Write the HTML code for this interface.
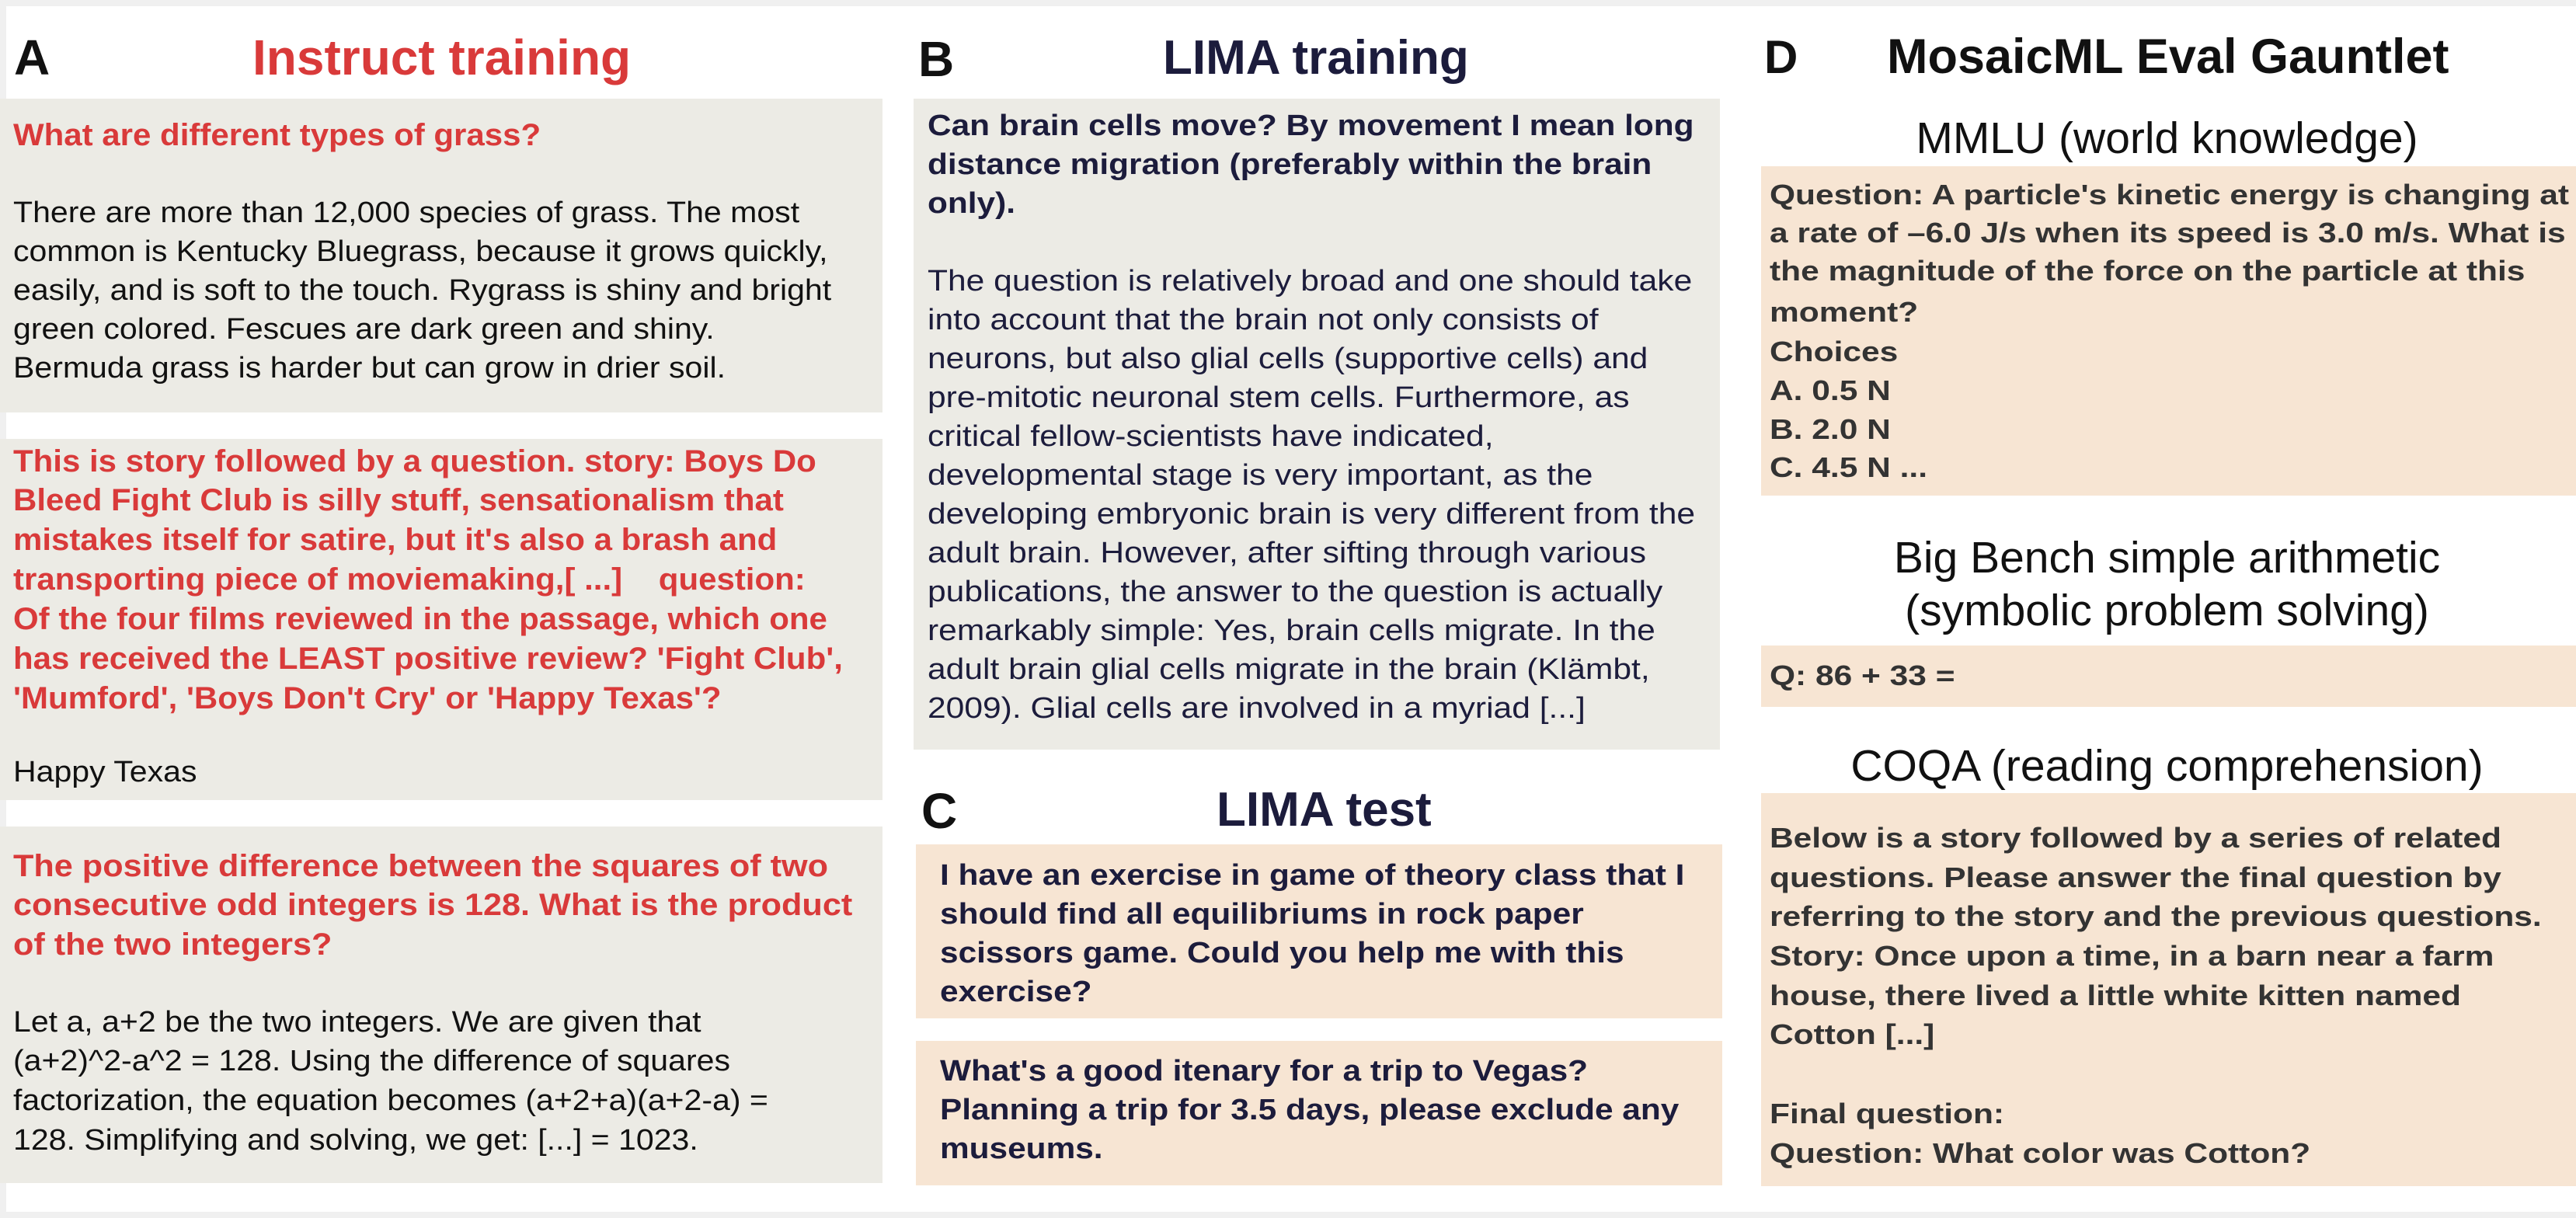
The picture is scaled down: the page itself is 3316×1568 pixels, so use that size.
<!DOCTYPE html>
<html><head><meta charset="utf-8"><style>
body{margin:0;width:3316px;height:1568px;background:#f0f0f0;position:relative;overflow:hidden;font-family:"Liberation Sans",sans-serif}
#pg{position:absolute;left:8px;top:8px;width:3308px;height:1552px;background:#fff}
.b{position:absolute}
.t{position:absolute;white-space:nowrap;line-height:1;transform-origin:0 0}
.g{background:#ecebe5}.p{background:#f7e5d3}
.r{color:#d93a3a;font-weight:bold;font-size:40px;transform:scaleX(1.05)}
.k{color:#111;font-size:38px;transform:scaleX(1.08)}
.n{color:#1c1c3c;font-weight:bold;font-size:38px;transform:scaleX(1.115)}
.nr{color:#1c1c3c;font-size:38px;transform:scaleX(1.12)}
.d{color:#333;font-weight:bold;font-size:36px;transform:scaleX(1.18)}
.s{color:#111;font-size:57px}
.h{font-weight:bold;font-size:64px;color:#111}
</style></head><body><div id="pg"></div>
<div class="b g" style="left:0;top:127px;width:1136px;height:404px"></div>
<div class="b g" style="left:0;top:565px;width:1136px;height:465px"></div>
<div class="b g" style="left:0;top:1064px;width:1136px;height:459px"></div>
<div class="b g" style="left:1176px;top:127px;width:1038px;height:838px"></div>
<div class="b p" style="left:1179px;top:1087px;width:1038px;height:224px"></div>
<div class="b p" style="left:1179px;top:1340px;width:1038px;height:186px"></div>
<div class="b p" style="left:2267px;top:214px;width:1049px;height:424px"></div>
<div class="b p" style="left:2267px;top:831px;width:1049px;height:79px"></div>
<div class="b p" style="left:2267px;top:1021px;width:1049px;height:506px"></div>

<div class="t h" style="left:18px;top:42px">A</div>
<div class="t h" style="left:325px;top:42px;color:#d93a3a">Instruct training</div>
<div class="t r" style="left:17px;top:154px">What are different types of grass?</div>
<div class="t k" style="left:17px;top:255px">There are more than 12,000 species of grass. The most</div>
<div class="t k" style="left:17px;top:305px">common is Kentucky Bluegrass, because it grows quickly,</div>
<div class="t k" style="left:17px;top:355px">easily, and is soft to the touch. Rygrass is shiny and bright</div>
<div class="t k" style="left:17px;top:405px">green colored. Fescues are dark green and shiny.</div>
<div class="t k" style="left:17px;top:455px">Bermuda grass is harder but can grow in drier soil.</div>

<div class="t r" style="left:17px;top:574px">This is story followed by a question. story: Boys Do</div>
<div class="t r" style="left:17px;top:624px">Bleed Fight Club is silly stuff, sensationalism that</div>
<div class="t r" style="left:17px;top:675px">mistakes itself for satire, but it's also a brash and</div>
<div class="t r" style="left:17px;top:726px">transporting piece of moviemaking,[ ...]&nbsp;&nbsp;&nbsp; question:</div>
<div class="t r" style="left:17px;top:777px">Of the four films reviewed in the passage, which one</div>
<div class="t r" style="left:17px;top:828px">has received the LEAST positive review? 'Fight Club',</div>
<div class="t r" style="left:17px;top:879px">'Mumford', 'Boys Don't Cry' or 'Happy Texas'?</div>
<div class="t k" style="left:17px;top:975px">Happy Texas</div>

<div class="t r" style="left:17px;top:1095px;transform:scaleX(1.08)">The positive difference between the squares of two</div>
<div class="t r" style="left:17px;top:1145px;transform:scaleX(1.08)">consecutive odd integers is 128. What is the product</div>
<div class="t r" style="left:17px;top:1196px;transform:scaleX(1.08)">of the two integers?</div>
<div class="t k" style="left:17px;top:1297px">Let a, a+2 be the two integers. We are given that</div>
<div class="t k" style="left:17px;top:1347px">(a+2)^2-a^2 = 128. Using the difference of squares</div>
<div class="t k" style="left:17px;top:1398px">factorization, the equation becomes (a+2+a)(a+2-a) =</div>
<div class="t k" style="left:17px;top:1449px">128. Simplifying and solving, we get: [...] = 1023.</div>

<div class="t h" style="left:1182px;top:44px">B</div>
<div class="t h" style="left:1497px;top:44px;color:#1c1c3c;font-size:62px">LIMA training</div>
<div class="t n" style="left:1194px;top:143px">Can brain cells move? By movement I mean long</div>
<div class="t n" style="left:1194px;top:193px">distance migration (preferably within the brain</div>
<div class="t n" style="left:1194px;top:243px">only).</div>
<div class="t nr" style="left:1194px;top:343px">The question is relatively broad and one should take</div>
<div class="t nr" style="left:1194px;top:393px">into account that the brain not only consists of</div>
<div class="t nr" style="left:1194px;top:443px">neurons, but also glial cells (supportive cells) and</div>
<div class="t nr" style="left:1194px;top:493px">pre-mitotic neuronal stem cells. Furthermore, as</div>
<div class="t nr" style="left:1194px;top:543px">critical fellow-scientists have indicated,</div>
<div class="t nr" style="left:1194px;top:593px">developmental stage is very important, as the</div>
<div class="t nr" style="left:1194px;top:643px">developing embryonic brain is very different from the</div>
<div class="t nr" style="left:1194px;top:693px">adult brain. However, after sifting through various</div>
<div class="t nr" style="left:1194px;top:743px">publications, the answer to the question is actually</div>
<div class="t nr" style="left:1194px;top:793px">remarkably simple: Yes, brain cells migrate. In the</div>
<div class="t nr" style="left:1194px;top:843px">adult brain glial cells migrate in the brain (Klämbt,</div>
<div class="t nr" style="left:1194px;top:893px">2009). Glial cells are involved in a myriad [...]</div>

<div class="t h" style="left:1186px;top:1012px">C</div>
<div class="t h" style="left:1566px;top:1012px;color:#1c1c3c;font-size:62px">LIMA test</div>
<div class="t n" style="left:1210px;top:1108px">I have an exercise in game of theory class that I</div>
<div class="t n" style="left:1210px;top:1158px">should find all equilibriums in rock paper</div>
<div class="t n" style="left:1210px;top:1208px">scissors game. Could you help me with this</div>
<div class="t n" style="left:1210px;top:1258px">exercise?</div>
<div class="t n" style="left:1210px;top:1360px">What's a good itenary for a trip to Vegas?</div>
<div class="t n" style="left:1210px;top:1410px">Planning a trip for 3.5 days, please exclude any</div>
<div class="t n" style="left:1210px;top:1460px">museums.</div>

<div class="t h" style="left:2271px;top:44px;font-size:60px">D</div>
<div class="t h" style="left:2429px;top:42px;font-size:63px">MosaicML Eval Gauntlet</div>
<div class="t s" style="left:2263px;width:1053px;text-align:center;top:150px">MMLU (world knowledge)</div>
<div class="t d" style="left:2278px;top:233px">Question: A particle's kinetic energy is changing at</div>
<div class="t d" style="left:2278px;top:282px">a rate of –6.0 J/s when its speed is 3.0 m/s. What is</div>
<div class="t d" style="left:2278px;top:331px">the magnitude of the force on the particle at this</div>
<div class="t d" style="left:2278px;top:384px">moment?</div>
<div class="t d" style="left:2278px;top:435px">Choices</div>
<div class="t d" style="left:2278px;top:485px">A. 0.5 N</div>
<div class="t d" style="left:2278px;top:535px">B. 2.0 N</div>
<div class="t d" style="left:2278px;top:584px">C. 4.5 N ...</div>
<div class="t s" style="left:2263px;width:1053px;text-align:center;top:690px">Big Bench simple arithmetic</div>
<div class="t s" style="left:2263px;width:1053px;text-align:center;top:758px">(symbolic problem solving)</div>
<div class="t d" style="left:2278px;top:852px">Q: 86 + 33 =</div>
<div class="t s" style="left:2263px;width:1053px;text-align:center;top:958px">COQA (reading comprehension)</div>
<div class="t d" style="left:2278px;top:1061px">Below is a story followed by a series of related</div>
<div class="t d" style="left:2278px;top:1112px">questions. Please answer the final question by</div>
<div class="t d" style="left:2278px;top:1162px">referring to the story and the previous questions.</div>
<div class="t d" style="left:2278px;top:1213px">Story: Once upon a time, in a barn near a farm</div>
<div class="t d" style="left:2278px;top:1264px">house, there lived a little white kitten named</div>
<div class="t d" style="left:2278px;top:1314px">Cotton [...]</div>
<div class="t d" style="left:2278px;top:1416px">Final question:</div>
<div class="t d" style="left:2278px;top:1467px">Question: What color was Cotton?</div>
</body></html>
